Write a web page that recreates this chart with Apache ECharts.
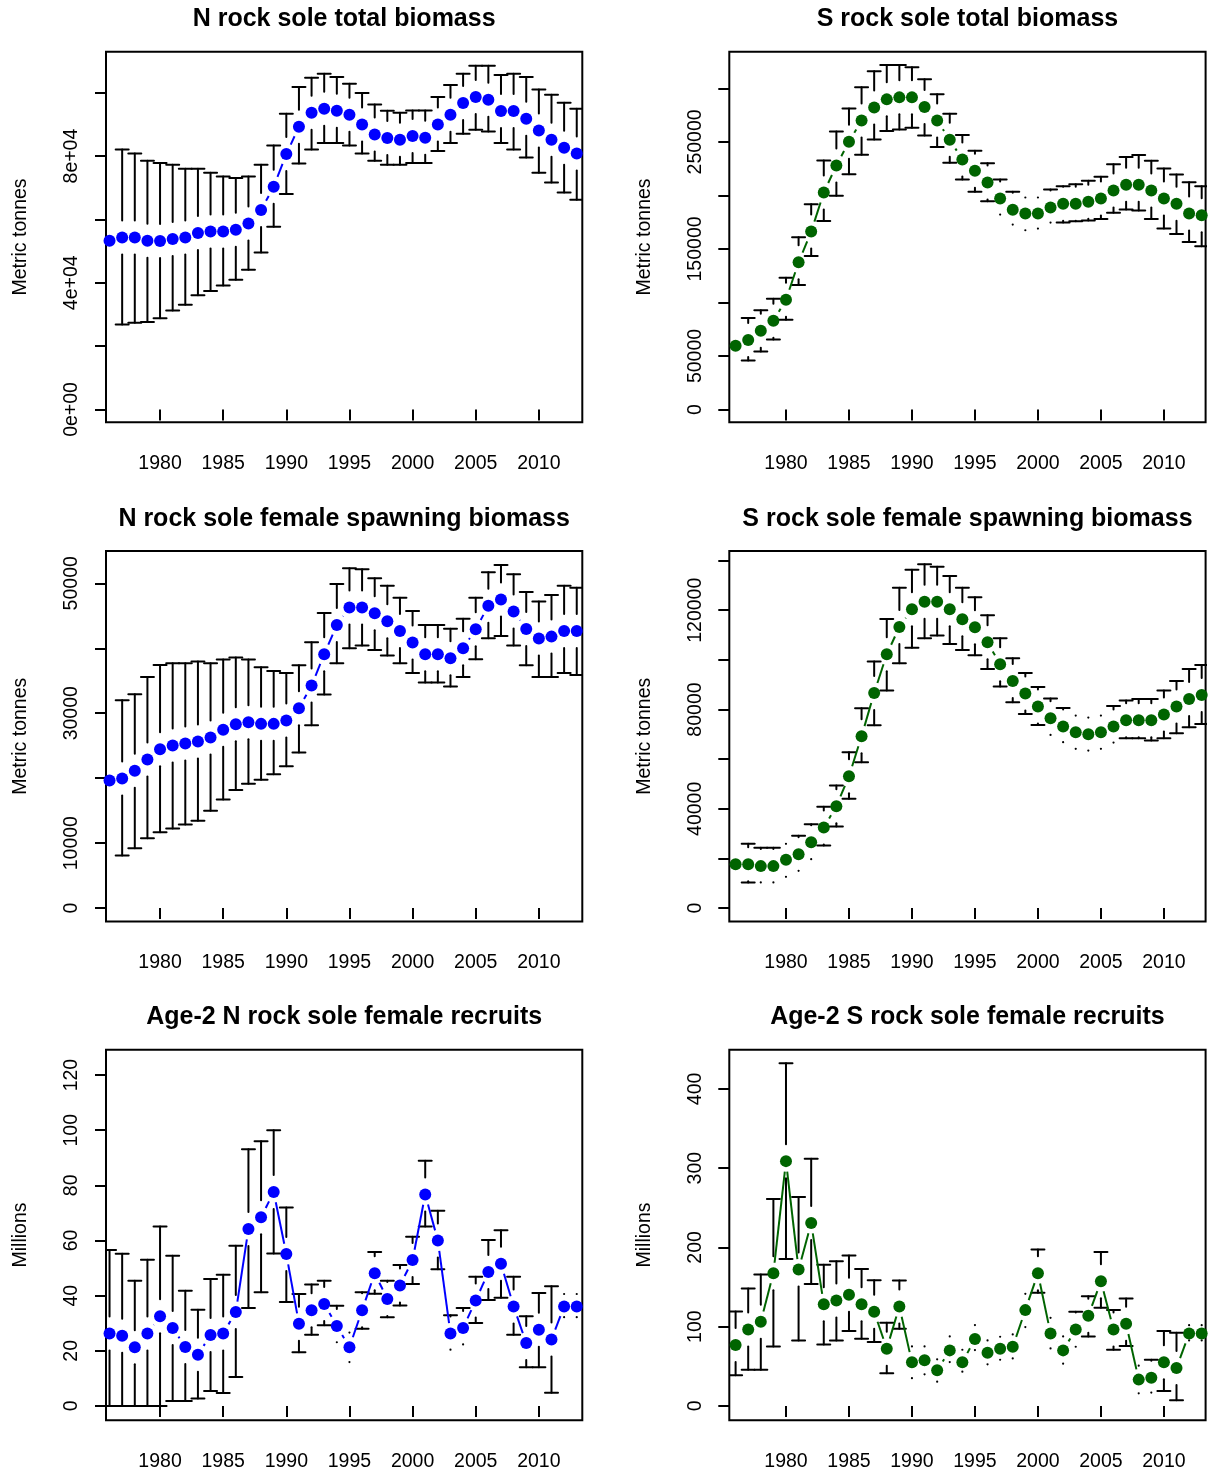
<!DOCTYPE html>
<html><head><meta charset="utf-8">
<script src="https://cdn.jsdelivr.net/npm/echarts@6/dist/echarts.min.js"></script>
<style>html,body{margin:0;padding:0;background:#fff}#c{width:1211px;height:1476px}</style>
</head><body><div id="c"></div>
<script>
// ---------------- DATA ----------------
const years = [1976,1977,1978,1979,1980,1981,1982,1983,1984,1985,1986,1987,1988,1989,1990,1991,1992,1993,1994,1995,1996,1997,1998,1999,2000,2001,2002,2003,2004,2005,2006,2007,2008,2009,2010,2011,2012,2013];
const xTickValues = [1980,1985,1990,1995,2000,2005,2010];

// N rock sole total biomass
const nTotal   = [53260,54300,54300,53260,53160,53790,54300,55680,56210,56210,56740,58740,62950,70310,80630,89260,93680,94950,94310,93050,90000,86840,85680,85160,86310,85790,90000,93050,96740,98630,97790,94210,94210,91790,88100,85160,82630,80840];
const nTotalHi = [null,82100,80840,78520,77790,77260,76000,76000,74740,73580,73050,73580,77260,83370,93370,101790,104740,106000,104950,102840,99890,96310,94310,93680,94420,94420,98630,102420,106000,108520,108520,105580,106000,104950,101050,99370,96840,94950];
const nTotalLo = [null,26840,27370,27580,28840,31260,33050,36100,37370,39160,40950,44100,49580,57680,68000,77680,82100,84100,84100,83370,80840,78520,77260,77260,77790,77790,81580,84100,87050,88310,87790,84100,82100,79580,74740,71680,68520,66210];

// S rock sole total biomass
const sTotal   = [59570,64880,73610,82970,102600,137550,166240,202740,228000,250140,270110,282270,289760,291630,291630,282580,270110,252010,233610,223010,212090,197120,186520,183090,183090,188700,192130,192130,194000,197120,204610,209910,209910,204610,197120,192130,183090,181530];
const sTotalHi = [null,85460,92630,103550,123200,160940,191820,232680,259810,281330,300980,315950,321880,321880,319700,308470,294430,276340,256380,241720,230180,214900,203360,198060,198060,205540,208660,210530,213650,217390,229250,235800,237670,232360,225190,219580,212400,208660];
const sTotalLo = [null,45850,54270,65500,83900,116340,143470,176220,199620,219890,237980,252320,260120,261680,263240,256070,245150,230490,214900,203360,194630,182150,172790,167490,169050,174660,174660,175910,176540,178090,183710,186830,185890,178090,169050,164060,156570,152520];

// N rock sole female spawning biomass
const nSSB   = [19640,19950,21130,22870,24460,25030,25330,25640,26260,27440,28310,28620,28360,28360,28870,30770,34260,39080,43590,46260,46260,45380,44150,42670,40870,39080,39080,38460,40000,42920,46560,47490,45640,42970,41490,41790,42670,42670];
const nSSBHi = [null,32000,32920,35590,37440,37690,37690,37950,37690,38260,38560,38260,37080,36510,36200,37380,40920,45440,49900,52310,52150,50770,49640,47790,45740,43590,43590,43020,44560,47790,51690,52820,51380,48670,47180,48200,49640,49330];
const nSSBLo = [null,8100,9230,10770,11690,12260,12870,13440,14970,16720,18200,19130,19740,20610,21850,23950,28150,32870,37690,40000,40410,39740,38870,37690,36200,34720,34720,34100,35590,38310,41540,41900,40410,37380,35590,35590,36200,35900];

// S rock sole female spawning biomass
const sSSB   = [17710,17710,16910,16910,19460,21740,26570,32480,41070,53140,69250,86690,102260,113270,120380,123470,123470,120380,116350,113130,107090,98230,91520,86420,81190,76490,73140,70860,70050,70860,73140,75690,75690,75690,77970,81190,84280,85890];
const sSSBHi = [null,25900,24290,24290,25900,29120,33820,40800,49390,62810,80520,99310,116490,129100,136350,138490,137560,133800,129100,125210,117960,108700,100650,94750,89110,84410,80650,77570,76760,77570,81460,83610,84280,84280,87630,91520,96350,97970];
const sSSBLo = [null,10330,10330,10330,12610,15030,19730,25230,32880,44020,58780,73680,87630,98640,104940,108700,109780,106420,104010,101860,96350,89240,82940,78240,73810,69780,66830,64150,63480,64150,66700,68440,68440,67500,68440,70460,72870,74210];

// Age-2 N rock sole female recruits (millions)
const nRec   = [26.3,25.5,21.3,26.3,32.5,28.3,21.4,18.6,25.7,26.3,34.1,64.2,68.4,77.6,55.1,29.8,34.7,37.0,29.0,21.3,34.7,48.1,38.8,43.7,52.9,76.7,60.0,26.3,28.3,38.2,48.6,51.6,36.1,22.8,27.6,24.1,36.1,36.1];
const nRecHi = [56.6,55.2,45.4,53.0,65.1,54.5,41.8,34.9,46.0,47.6,58.1,93.1,96.0,100.0,72.0,40.6,44.0,45.4,36.3,26.6,41.2,55.8,45.4,51.1,61.4,88.9,70.8,32.9,35.5,46.9,60.2,63.7,46.9,32.5,41.0,43.4,40.6,40.6];
const nRecLo = [0,0,0,0,0,1.8,1.8,2.7,5.4,4.7,10.5,35.5,41.2,55.3,37.7,19.5,25.8,29.3,23.1,15.9,28.0,40.7,32.2,36.4,44.2,65.1,49.6,20.4,22.3,30.1,38.4,39.2,25.8,14.0,14.0,4.8,32.2,32.2];

// Age-2 S rock sole female recruits (millions)
const sRec   = [76.8,96.5,106.2,167.5,308.9,172.1,230.8,128.4,133.0,140.2,128.4,118.8,72.2,125.5,55.0,57.5,44.9,70.1,55.0,84.4,67.2,72.2,74.7,120.9,167.5,91.5,70.1,96.5,113.7,157.4,96.5,103.7,33.2,35.7,55.0,47.8,91.5,91.5];
const sRecHi = [119.2,148.2,165.8,261.0,432.3,263.6,311.8,178.0,182.6,189.7,172.9,158.6,104.9,158.2,75.1,75.1,58.8,87.7,70.9,102.0,82.7,87.3,90.2,141.4,197.3,111.2,87.7,118.8,138.5,194.3,120.9,135.6,50.8,58.3,94.4,92.3,101.9,101.9];
const sRecLo = [38.6,45.7,45.7,75.1,185.5,82.7,154.0,77.6,82.7,94.4,84.8,80.6,41.1,97.4,35.0,39.9,30.6,55.4,43.2,70.5,52.5,58.3,60.0,99.5,142.7,72.6,53.3,74.7,87.7,123.8,70.9,75.5,15.9,16.8,18.9,7.1,82.7,82.7];

// tick values and labels
const yTicks1 = [0,20000,40000,60000,80000,100000];
const yLabels1 = [0,40000,80000];
const yLabelText1 = ['0e+00','4e+04','8e+04'];
const yTicks2 = [0,50000,100000,150000,200000,250000,300000];
const yLabels2 = [0,50000,150000,250000];
const yTicks3 = [0,10000,20000,30000,40000,50000];
const yLabels3 = [0,10000,30000,50000];
const yTicks4 = [0,20000,40000,60000,80000,100000,120000,140000];
const yLabels4 = [0,40000,80000,120000];
const yTicks5 = [0,20,40,60,80,100,120];
const yTicks6 = [0,100,200,300,400];

const titles = ['N rock sole total biomass','S rock sole total biomass','N rock sole female spawning biomass','S rock sole female spawning biomass','Age-2 N rock sole female recruits','Age-2 S rock sole female recruits'];
const yNames = ['Metric tonnes','Metric tonnes','Metric tonnes','Metric tonnes','Millions','Millions'];

// ---------------- LAYOUT / STYLE ----------------
const BLUE = '#0000FF', GREEN = '#006400';
const FONT = '"Liberation Sans", Arial, Helvetica, sans-serif';
const BAR_GAP = 17, CAP = 6.5, LINE_GAP = 10.5;

const colLeft = [106, 729.3];
const colW = 476.3;
const rowTop = [51.7, 551, 1049.7];
const rowH = 370.5;
const xRange = [[1975.72, 2013.44],[1975.5, 2013.31]];

const panels = [
  {est:nTotal, lo:nTotalLo, hi:nTotalHi, color:BLUE, col:0, row:0, yMin:-4015, yMax:112950, ticks:yTicks1, labels:yLabels1,
   fmt:v => yLabelText1[yLabels1.indexOf(v)]},
  {est:sTotal, lo:sTotalLo, hi:sTotalHi, color:GREEN, col:1, row:0, yMin:-11880, yMax:334300, ticks:yTicks2, labels:yLabels2, fmt:v => String(v)},
  {est:nSSB, lo:nSSBLo, hi:nSSBHi, color:BLUE, col:0, row:1, yMin:-2060, yMax:54970, ticks:yTicks3, labels:yLabels3, fmt:v => String(v)},
  {est:sSSB, lo:sSSBLo, hi:sSSBHi, color:GREEN, col:1, row:1, yMin:-5400, yMax:143870, ticks:yTicks4, labels:yLabels4, fmt:v => String(v)},
  {est:nRec, lo:nRecLo, hi:nRecHi, color:BLUE, col:0, row:2, yMin:-5.17, yMax:129.2, ticks:yTicks5, labels:yTicks5, fmt:v => String(v)},
  {est:sRec, lo:sRecLo, hi:sRecHi, color:GREEN, col:1, row:2, yMin:-18.0, yMax:449.5, ticks:yTicks6, labels:yTicks6, fmt:v => String(v)}
];

function renderBar(params, api) {
  const x = api.value(0), y = api.value(1), lo = api.value(2), hi = api.value(3);
  const p = api.coord([x, y]);
  const ph = api.coord([x, hi]);
  const pl = api.coord([x, lo]);
  const st = {stroke:'#000', lineWidth:2, lineCap:'round'};
  const ch = [];
  const topEnd = p[1] - BAR_GAP;
  if (ph[1] < topEnd - 0.3) {
    ch.push({type:'line', shape:{x1:ph[0], y1:ph[1], x2:ph[0], y2:topEnd}, style:st});
    ch.push({type:'line', shape:{x1:ph[0]-CAP, y1:ph[1], x2:ph[0]+CAP, y2:ph[1]}, style:st});
  } else {
    ch.push({type:'circle', shape:{cx:ph[0], cy:ph[1], r:1.1}, style:{fill:'#000'}});
  }
  const botEnd = p[1] + BAR_GAP;
  if (pl[1] > botEnd + 0.3) {
    ch.push({type:'line', shape:{x1:pl[0], y1:pl[1], x2:pl[0], y2:botEnd}, style:st});
    ch.push({type:'line', shape:{x1:pl[0]-CAP, y1:pl[1], x2:pl[0]+CAP, y2:pl[1]}, style:st});
  } else {
    ch.push({type:'circle', shape:{cx:pl[0], cy:pl[1], r:1.1}, style:{fill:'#000'}});
  }
  return {type:'group', children:ch};
}

function makeSegRenderer(color) {
  return function (params, api) {
    const a = api.coord([api.value(0), api.value(1)]);
    const b = api.coord([api.value(2), api.value(3)]);
    const dx = b[0]-a[0], dy = b[1]-a[1];
    const d = Math.sqrt(dx*dx + dy*dy);
    if (d <= 2*LINE_GAP) return null;
    const ux = dx/d, uy = dy/d;
    return {type:'line', shape:{x1:a[0]+ux*LINE_GAP, y1:a[1]+uy*LINE_GAP, x2:b[0]-ux*LINE_GAP, y2:b[1]-uy*LINE_GAP},
      style:{stroke:color, lineWidth:2, lineCap:'butt'}};
  };
}

const grid = [], xAxis = [], yAxis = [], series = [], graphic = [];
panels.forEach((pn, i) => {
  const left = colLeft[pn.col], top = rowTop[pn.row];
  grid.push({left:left, top:top, width:colW, height:rowH, show:true, borderColor:'#000', borderWidth:2, backgroundColor:'transparent'});
  const xr = xRange[pn.col];
  xAxis.push({type:'value', gridIndex:i, min:xr[0], max:xr[1],
    axisLine:{show:false}, splitLine:{show:false},
    axisTick:{show:true, length:11, customValues:xTickValues, lineStyle:{color:'#000', width:2}},
    axisLabel:{show:true, customValues:xTickValues, margin:31, fontSize:19.5, color:'#000', fontFamily:FONT, formatter:v => String(v)}});
  yAxis.push({type:'value', gridIndex:i, min:pn.yMin, max:pn.yMax,
    axisLine:{show:false}, splitLine:{show:false},
    axisTick:{show:true, length:11, customValues:pn.ticks, lineStyle:{color:'#000', width:2}},
    axisLabel:{show:true, customValues:pn.labels, rotate:90, margin:24, fontSize:19.5, color:'#000', fontFamily:FONT, formatter:pn.fmt},
    name:yNames[i], nameLocation:'middle', nameGap:75,
    nameTextStyle:{fontSize:19.5, color:'#000', fontFamily:FONT}});

  const barData = [];
  years.forEach((yr, j) => { if (pn.lo[j] != null && pn.hi[j] != null) barData.push([yr, pn.est[j], pn.lo[j], pn.hi[j]]); });
  series.push({type:'custom', name:'ci'+i, xAxisIndex:i, yAxisIndex:i, clip:true, silent:true,
    renderItem:renderBar, encode:{x:0, y:[1,2,3]}, data:barData, z:2});

  const segData = [];
  for (let j = 0; j < years.length - 1; j++) segData.push([years[j], pn.est[j], years[j+1], pn.est[j+1]]);
  series.push({type:'custom', name:'line'+i, xAxisIndex:i, yAxisIndex:i, clip:true, silent:true,
    renderItem:makeSegRenderer(pn.color), encode:{x:[0,2], y:[1,3]}, data:segData, z:2});

  series.push({type:'scatter', name:'est'+i, xAxisIndex:i, yAxisIndex:i, clip:true, silent:true,
    symbol:'circle', symbolSize:12, itemStyle:{color:pn.color, opacity:1},
    data:years.map((yr, j) => [yr, pn.est[j]]), z:3});

  graphic.push({type:'text', x:left + colW/2, y:top - 32.2, silent:true,
    style:{text:titles[i], align:'center', verticalAlign:'middle', font:'bold 25px ' + FONT, fill:'#000'}});
});

const chart = echarts.init(document.getElementById('c'), null, {renderer:'canvas'});
chart.setOption({animation:false, backgroundColor:'#fff', grid, xAxis, yAxis, series, graphic, tooltip:{show:false}});
</script></body></html>
